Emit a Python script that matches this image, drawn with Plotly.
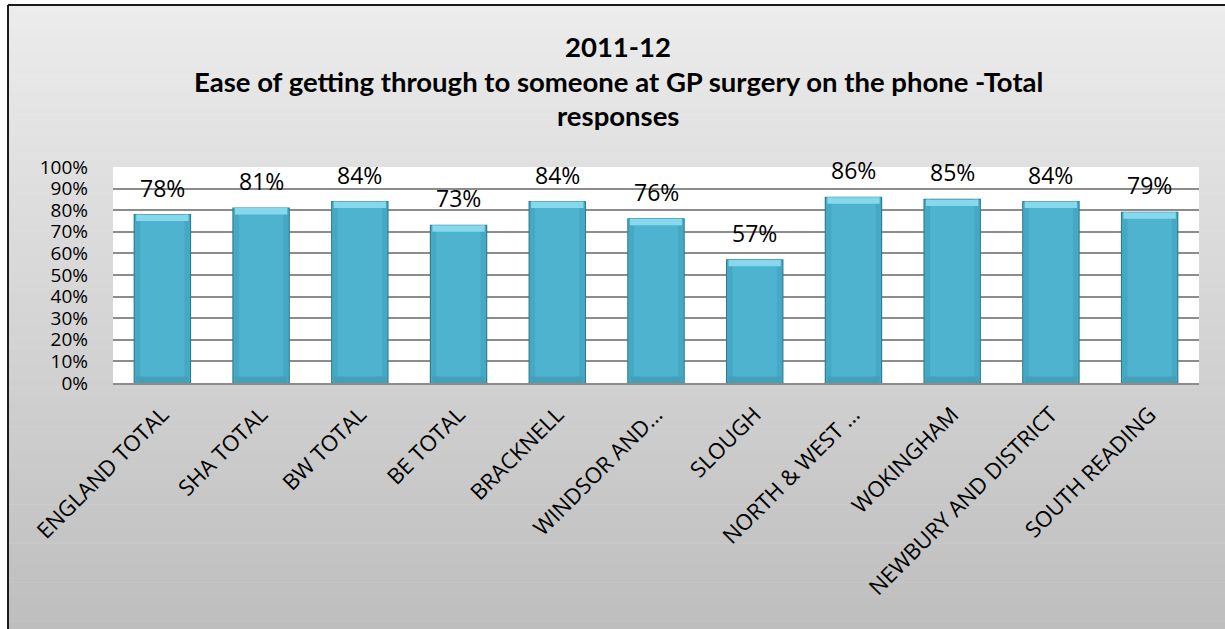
import plotly.graph_objects as go

# Survey results: share of patients finding it easy to get through by phone
categories = [
    "ENGLAND TOTAL", "SHA TOTAL", "BW TOTAL", "BE TOTAL", "BRACKNELL",
    "WINDSOR AND…", "SLOUGH", "NORTH & WEST …", "WOKINGHAM",
    "NEWBURY AND DISTRICT", "SOUTH READING",
]
values = [78, 81, 84, 73, 84, 76, 57, 86, 85, 84, 79]
y_ticks = list(range(0, 101, 10))
y_tick_labels = [f"{t}%" for t in y_ticks]
title_lines = [
    "2011-12",
    "Ease of getting through to someone at GP surgery on the phone -Total",
    "responses",
]

W, H = 1225, 629
ML, MR, MT, MB = 113, 26, 167, 246
PW, PH = W - ML - MR, H - MT - MB

BAR_COLOR = "#4DB3CE"
EDGE_COLOR = "#2D7D92"
SIDE_BEVEL = "#46A8C2"
TOP_BEVEL = "#86D8EC"
BOTTOM_BEVEL = "#449FB8"
BAR_W = 0.57
BEVEL = 3.0       # top/bottom bevel depth in axis units
SIDE_W = 0.05     # side bevel width in category units


def px_to_paper_x(px):
    return (px - ML) / PW


def px_to_paper_y(py):
    return (H - MB - py) / PH


n = len(values)
fig = go.Figure()

# main bar body
fig.add_trace(go.Bar(
    x=categories, y=values,
    marker=dict(color=BAR_COLOR, line=dict(color=EDGE_COLOR, width=1.2)),
    width=BAR_W, hoverinfo="x+y",
))
# slightly darker side bevels
for off in (-BAR_W / 2 + 0.01, BAR_W / 2 - 0.01 - SIDE_W):
    fig.add_trace(go.Bar(
        x=categories, y=values, offset=off, width=SIDE_W,
        marker=dict(color=SIDE_BEVEL, line=dict(width=0)),
        hoverinfo="skip",
    ))
# darker lower bevel
fig.add_trace(go.Bar(
    x=categories, y=[BEVEL] * n, base=[0] * n,
    marker=dict(color=BOTTOM_BEVEL, line=dict(width=0)),
    width=BAR_W - 0.04, hoverinfo="skip",
))
# lighter upper bevel
fig.add_trace(go.Bar(
    x=categories, y=[BEVEL] * n, base=[v - BEVEL for v in values],
    marker=dict(color=TOP_BEVEL, line=dict(width=0)),
    width=BAR_W - 0.04, hoverinfo="skip",
))

# grey vertical gradient behind everything, inside the chart frame
shapes = []
frame_left, frame_top = 8, 5
n_strips = 80
top_rgb = (236, 236, 236)
bot_rgb = (190, 190, 190)
for i in range(n_strips):
    y0 = frame_top + (H - frame_top) * i / n_strips
    y1 = frame_top + (H - frame_top) * (i + 1) / n_strips + 0.6
    t = (i + 0.5) / n_strips
    c = tuple(round(a + (b - a) * t) for a, b in zip(top_rgb, bot_rgb))
    shapes.append(dict(
        type="rect", xref="paper", yref="paper", layer="below",
        x0=px_to_paper_x(frame_left), x1=px_to_paper_x(W + 5),
        y0=px_to_paper_y(y1), y1=px_to_paper_y(y0),
        fillcolor=f"rgb{c}", line=dict(width=0),
    ))
# white plot area
shapes.append(dict(
    type="rect", xref="paper", yref="paper", layer="below",
    x0=0, x1=1, y0=0, y1=1, fillcolor="white", line=dict(width=0),
))
# chart frame (top and left edges)
shapes.append(dict(
    type="line", xref="paper", yref="paper",
    x0=px_to_paper_x(frame_left), x1=px_to_paper_x(W + 5),
    y0=px_to_paper_y(frame_top), y1=px_to_paper_y(frame_top),
    line=dict(color="#1A1A1A", width=2),
))
shapes.append(dict(
    type="line", xref="paper", yref="paper",
    x0=px_to_paper_x(frame_left), x1=px_to_paper_x(frame_left),
    y0=px_to_paper_y(frame_top), y1=px_to_paper_y(H + 5),
    line=dict(color="#1A1A1A", width=2),
))

annotations = []
# title lines
for line, py in zip(title_lines, [46, 81, 116]):
    annotations.append(dict(
        text=f"<b>{line}</b>", xref="paper", yref="paper",
        x=px_to_paper_x(618), y=px_to_paper_y(py),
        xanchor="center", yanchor="middle", showarrow=False,
        font=dict(family="Lato", size=27.5, color="#000000"),
    ))
# value labels above bars
for c, v in zip(categories, values):
    annotations.append(dict(
        text=f"{v}%", x=c, y=v, xref="x", yref="y",
        xanchor="center", yanchor="middle", yshift=27, showarrow=False,
        font=dict(family="Open Sans", size=23, color="#000000"),
    ))

fig.update_layout(
    width=W, height=H,
    margin=dict(l=ML, r=MR, t=MT, b=MB, pad=0),
    paper_bgcolor="white", plot_bgcolor="rgba(0,0,0,0)",
    barmode="overlay", bargap=0.43, showlegend=False,
    shapes=shapes, annotations=annotations,
    font=dict(family="Open Sans", color="#000000"),
)
fig.update_xaxes(
    type="category", tickangle=-45, ticks="",
    tickfont=dict(family="Open Sans", size=22, color="#000000"),
    showline=True, linecolor="#8C8C8C", linewidth=2,
    showgrid=False, ticklabelstandoff=8,
)
fig.update_yaxes(
    range=[0, 100], tickvals=y_ticks, ticktext=y_tick_labels,
    tickfont=dict(family="Open Sans", size=19, color="#000000"),
    showgrid=True, gridcolor="#8C8C8C", gridwidth=1.5,
    zeroline=False, ticks="", showline=False, ticklabelstandoff=24,
)

fig.write_html("out.html")
